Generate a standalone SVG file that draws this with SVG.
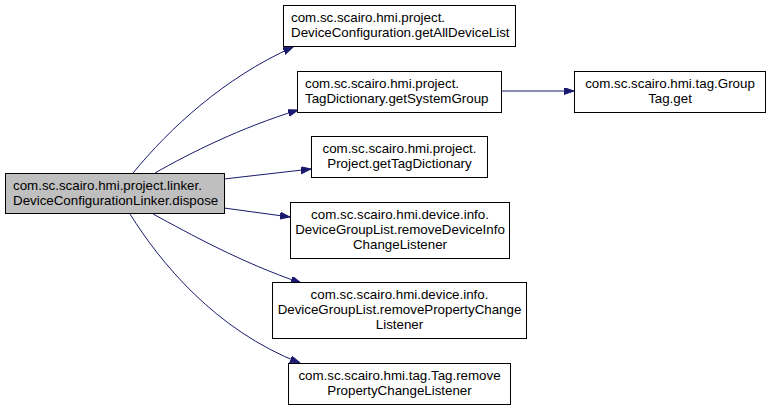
<svg xmlns="http://www.w3.org/2000/svg" width="771" height="409" viewBox="0 0 771 409">
<style>
text{font-family:"Liberation Sans",Arial,sans-serif;font-size:13.33px;fill:#000}
.n rect{fill:#fff;stroke:#000;stroke-width:1}
.m rect{fill:#bfbfbf}
.c text{text-anchor:middle}
#edges path{fill:none;stroke:#191970;stroke-width:1;marker-end:url(#ah)}
</style>
<defs>
<marker id="ah" markerUnits="userSpaceOnUse" markerWidth="11" markerHeight="8" refX="10" refY="3.5" orient="auto">
<path d="M0,0 L10,3.5 L0,7 z" fill="#191970" stroke="#191970" stroke-width="1"/>
</marker>
</defs>
<rect width="771" height="409" fill="#fff"/>
<g id="edges">
<path d="M133,173 C170,128 224,78 293,47"/>
<path d="M155,173 C190,153 240,128 298,110"/>
<path d="M224,179 L311,169"/>
<path d="M224,208 L290,217"/>
<path d="M153,214 C190,234 240,262 301,283"/>
<path d="M130,214 C160,262 215,330 300,363"/>
<path d="M501,91 L574,91"/>
</g>
<g id="main" class="n m">
<rect x="5.5" y="173.5" width="219" height="40"/>
<text x="13" y="190">com.sc.scairo.hmi.project.linker.</text>
<text x="13" y="205">DeviceConfigurationLinker.dispose</text>
</g>
<g id="getAllDeviceList" class="n">
<rect x="283.5" y="5.5" width="232" height="41"/>
<text x="291" y="22">com.sc.scairo.hmi.project.</text>
<text x="291" y="37">DeviceConfiguration.getAllDeviceList</text>
</g>
<g id="getSystemGroup" class="n">
<rect x="297.5" y="71.5" width="204" height="41"/>
<text x="305" y="88">com.sc.scairo.hmi.project.</text>
<text x="305" y="103">TagDictionary.getSystemGroup</text>
</g>
<g id="groupTagGet" class="n c">
<rect x="574.5" y="71.5" width="191" height="41"/>
<text x="670" y="88">com.sc.scairo.hmi.tag.Group</text>
<text x="670" y="103">Tag.get</text>
</g>
<g id="getTagDictionary" class="n c">
<rect x="311.5" y="136.5" width="176" height="41"/>
<text x="399.5" y="153">com.sc.scairo.hmi.project.</text>
<text x="399.5" y="168">Project.getTagDictionary</text>
</g>
<g id="removeDeviceInfoChangeListener" class="n c">
<rect x="290.5" y="202.5" width="219" height="56"/>
<text x="400" y="219">com.sc.scairo.hmi.device.info.</text>
<text x="400" y="234">DeviceGroupList.removeDeviceInfo</text>
<text x="400" y="249">ChangeListener</text>
</g>
<g id="removePropertyChangeListener" class="n c">
<rect x="272.5" y="282.5" width="254" height="56"/>
<text x="399.5" y="299">com.sc.scairo.hmi.device.info.</text>
<text x="399.5" y="314">DeviceGroupList.removePropertyChange</text>
<text x="399.5" y="329">Listener</text>
</g>
<g id="tagRemovePropertyChangeListener" class="n c">
<rect x="288.5" y="363.5" width="222" height="41"/>
<text x="399.5" y="380">com.sc.scairo.hmi.tag.Tag.remove</text>
<text x="399.5" y="395">PropertyChangeListener</text>
</g>
</svg>
